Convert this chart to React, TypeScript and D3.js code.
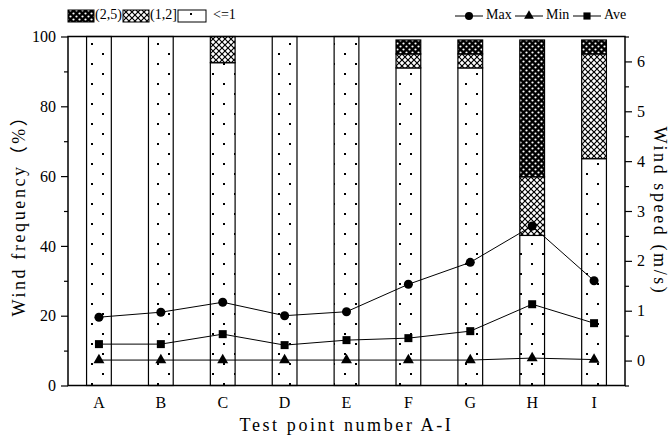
import { useEffect, useRef } from 'react'
import * as d3 from 'd3'

// Wind frequency (%) by speed class, per test point
const categories = ['A', 'B', 'C', 'D', 'E', 'F', 'G', 'H', 'I']
const freqLe1 = [100, 100, 92.5, 100, 100, 91, 91, 43, 65]
const freq1to2 = [0, 0, 7.5, 0, 0, 4, 4, 16.8, 30]
const freq2to5 = [0, 0, 0, 0, 0, 4, 4, 39.2, 4]

// Wind speed (m/s)
const maxSpeed = [0.87, 0.97, 1.17, 0.9, 0.98, 1.53, 1.97, 2.7, 1.6]
const minSpeed = [0.01, 0.01, 0.01, 0.01, 0.01, 0.01, 0.01, 0.05, 0.02]
const aveSpeed = [0.33, 0.33, 0.53, 0.31, 0.41, 0.45, 0.59, 1.13, 0.75]

const freqTicks = [0, 20, 40, 60, 80, 100]
const freqMinor = [10, 30, 50, 70, 90]
const speedTicks = [0, 1, 2, 3, 4, 5, 6]
const speedMinor = [-0.5, 0.5, 1.5, 2.5, 3.5, 4.5, 5.5, 6.5]

const W = 670
const H = 444

export default function App() {
  const svgRef = useRef<SVGSVGElement>(null)

  useEffect(() => {
    const svg = d3.select(svgRef.current)
    svg.selectAll('*').remove()

    const margin = { top: 36.5, right: 45, bottom: 58.5, left: 68 }
    const x0 = margin.left
    const x1 = W - margin.right
    const y0 = H - margin.bottom
    const y1 = margin.top

    const serif = '"Liberation Serif", "Times New Roman", serif'
    const titleFont = '"Liberation Serif", "Noto Sans CJK SC", serif'

    const x = d3.scaleBand().domain(categories).range([x0, x1]).paddingInner(0.6).paddingOuter(0.3)
    const xc = (c: string) => (x(c) as number) + x.bandwidth() / 2
    const yL = d3.scaleLinear().domain([0, 100]).range([y0, y1])
    const yR = d3.scaleLinear().domain([-0.5, 6.5]).range([y0, y1])

    // patterns
    const defs = svg.append('defs')
    const pDots = defs.append('pattern').attr('id', 'p-dots')
      .attr('patternUnits', 'userSpaceOnUse').attr('width', 22).attr('height', 20)
    pDots.append('rect').attr('width', 22).attr('height', 20).attr('fill', '#fff')
    pDots.append('rect').attr('x', 3).attr('y', 3).attr('width', 2).attr('height', 2).attr('fill', '#000')
    pDots.append('rect').attr('x', 14).attr('y', 13).attr('width', 2).attr('height', 2).attr('fill', '#000')

    const pLight = defs.append('pattern').attr('id', 'p-light')
      .attr('patternUnits', 'userSpaceOnUse').attr('width', 6).attr('height', 6)
    pLight.append('rect').attr('width', 6).attr('height', 6).attr('fill', '#fff')
    pLight.append('path').attr('d', 'M0,0L6,6M6,0L0,6').attr('stroke', '#000').attr('stroke-width', 1.2)

    const pDark = defs.append('pattern').attr('id', 'p-dark')
      .attr('patternUnits', 'userSpaceOnUse').attr('width', 6).attr('height', 6)
    pDark.append('rect').attr('width', 6).attr('height', 6).attr('fill', '#000')
    pDark.append('circle').attr('cx', 1.5).attr('cy', 1.5).attr('r', 1.1).attr('fill', '#fff')
    pDark.append('circle').attr('cx', 4.5).attr('cy', 4.5).attr('r', 1.1).attr('fill', '#fff')

    // stacked bars
    const rows = categories.map((c, i) => ({ cat: c, le1: freqLe1[i], r12: freq1to2[i], r25: freq2to5[i] }))
    const keys = ['le1', 'r12', 'r25']
    const fills: Record<string, string> = { le1: 'url(#p-dots)', r12: 'url(#p-light)', r25: 'url(#p-dark)' }
    const series = d3.stack<any>().keys(keys)(rows)

    const bars = svg.append('g')
    series.forEach(s => {
      bars.append('g').selectAll('rect')
        .data(s.filter(d => d[1] - d[0] > 0))
        .join('rect')
        .attr('x', d => x(d.data.cat) as number)
        .attr('y', d => yL(d[1]))
        .attr('width', x.bandwidth())
        .attr('height', d => yL(d[0]) - yL(d[1]))
        .attr('fill', fills[s.key])
        .attr('stroke', '#000')
        .attr('stroke-width', 1.2)
    })

    // frame
    svg.append('rect')
      .attr('x', x0).attr('y', y1).attr('width', x1 - x0).attr('height', y0 - y1)
      .attr('fill', 'none').attr('stroke', '#000').attr('stroke-width', 1.5)

    // left axis
    const left = svg.append('g').attr('transform', `translate(${x0},0)`)
    left.call(d3.axisLeft(yL).tickValues(freqMinor).tickSize(4).tickFormat(() => ''))
    left.select('.domain').remove()
    const leftMajor = svg.append('g').attr('transform', `translate(${x0},0)`)
    leftMajor.call(d3.axisLeft(yL).tickValues(freqTicks).tickSize(7).tickPadding(5))
    leftMajor.select('.domain').remove()
    leftMajor.selectAll('text').style('font-family', serif).style('font-size', '16px').attr('fill', '#000')

    // right axis
    const right = svg.append('g').attr('transform', `translate(${x1},0)`)
    right.call(d3.axisRight(yR).tickValues(speedMinor).tickSize(4).tickFormat(() => ''))
    right.select('.domain').remove()
    const rightMajor = svg.append('g').attr('transform', `translate(${x1},0)`)
    rightMajor.call(d3.axisRight(yR).tickValues(speedTicks).tickSize(7).tickPadding(5).tickFormat(d3.format('d')))
    rightMajor.select('.domain').remove()
    rightMajor.selectAll('text').style('font-family', serif).style('font-size', '16px').attr('fill', '#000')

    // bottom axis
    const bottom = svg.append('g').attr('transform', `translate(0,${y0})`)
    bottom.call(d3.axisBottom(x).tickSize(0).tickPadding(11))
    bottom.select('.domain').remove()
    bottom.selectAll('text').style('font-family', serif).style('font-size', '16px').attr('fill', '#000')
    svg.selectAll('.tick line').attr('stroke-width', 1.2)

    // speed lines
    const speedSeries = [
      { name: 'Max', values: maxSpeed, symbol: d3.symbolCircle, size: 64 },
      { name: 'Min', values: minSpeed, symbol: d3.symbolTriangle, size: 52 },
      { name: 'Ave', values: aveSpeed, symbol: d3.symbolSquare, size: 64 },
    ]
    const line = d3.line<number>().x((_, i) => xc(categories[i])).y(v => yR(v))
    speedSeries.forEach(s => {
      svg.append('path').datum(s.values).attr('d', line)
        .attr('fill', 'none').attr('stroke', '#000').attr('stroke-width', 1)
      svg.append('g').selectAll('path')
        .data(s.values)
        .join('path')
        .attr('transform', (v, i) => `translate(${xc(categories[i])},${yR(v)})`)
        .attr('d', d3.symbol().type(s.symbol).size(s.size)())
        .attr('fill', '#000')
    })

    // axis titles (SimSun-like spaced serif)
    svg.append('text')
      .attr('transform', `translate(21,${(y0 + y1) / 2}) rotate(-90)`)
      .attr('text-anchor', 'middle').attr('dominant-baseline', 'middle')
      .style('font-family', titleFont).style('font-size', '18px').style('letter-spacing', '2.6px')
      .text('Wind frequency（%）')
    svg.append('text')
      .attr('transform', `translate(658,${(y0 + y1) / 2}) rotate(90)`)
      .attr('text-anchor', 'middle').attr('dominant-baseline', 'middle')
      .style('font-family', titleFont).style('font-size', '18px').style('letter-spacing', '2.6px')
      .text('Wind speed (m/s)')
    svg.append('text')
      .attr('x', (x0 + x1) / 2).attr('y', 431)
      .attr('text-anchor', 'middle')
      .style('font-family', titleFont).style('font-size', '18px').style('letter-spacing', '2.6px')
      .text('Test point number A-I')

    // legend: bars
    const ly = 10
    const lh = 12
    const legBars = [
      { fill: 'url(#p-dark)', label: '(2,5)', x: 68, w: 26, gap: 1 },
      { fill: 'url(#p-light)', label: '(1,2]', x: 123, w: 26, gap: 1 },
      { fill: 'url(#p-dots)', label: '<=1', x: 178, w: 28, gap: 7 },
    ]
    const lg = svg.append('g')
    legBars.forEach(b => {
      lg.append('rect').attr('x', b.x).attr('y', ly).attr('width', b.w).attr('height', lh)
        .attr('fill', b.fill).attr('stroke', '#000').attr('stroke-width', 1)
      lg.append('text').attr('x', b.x + b.w + b.gap).attr('y', ly + lh / 2)
        .attr('dominant-baseline', 'middle')
        .style('font-family', serif).style('font-size', '14px')
        .text(b.label)
    })

    // legend: lines
    const legLines = [
      { ...speedSeries[0], x: 455 },
      { ...speedSeries[1], x: 515 },
      { ...speedSeries[2], x: 573 },
    ]
    legLines.forEach(s => {
      lg.append('line').attr('x1', s.x).attr('x2', s.x + 28)
        .attr('y1', ly + lh / 2).attr('y2', ly + lh / 2)
        .attr('stroke', '#000').attr('stroke-width', 1)
      lg.append('path').attr('transform', `translate(${s.x + 14},${ly + lh / 2})`)
        .attr('d', d3.symbol().type(s.symbol).size(s.size * 0.8)())
        .attr('fill', '#000')
      lg.append('text').attr('x', s.x + 31).attr('y', ly + lh / 2)
        .attr('dominant-baseline', 'middle')
        .style('font-family', serif).style('font-size', '14px')
        .text(s.name)
    })
  }, [])

  return (
    <svg
      ref={svgRef}
      width={W}
      height={H}
      style={{ position: 'absolute', left: 0, top: 0, background: '#fff' }}
    />
  )
}
